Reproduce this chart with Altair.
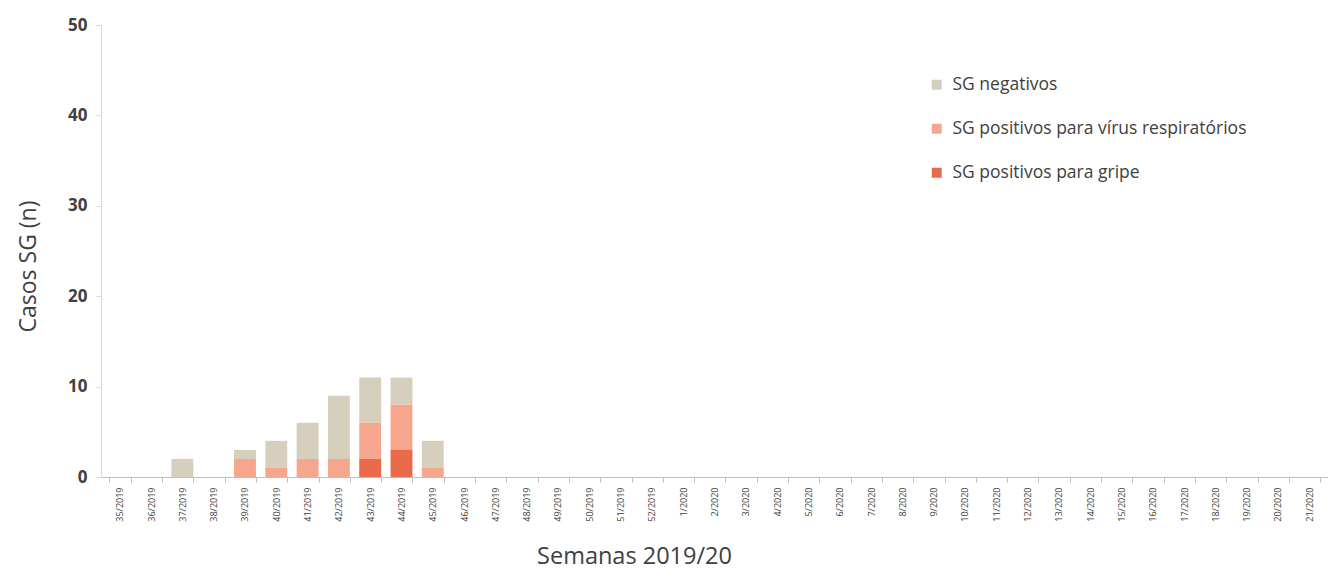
import altair as alt
import pandas as pd

weeks = [f"{w}/2019" for w in range(35, 53)] + [f"{w}/2020" for w in range(1, 22)]
gripe = [0, 0, 0, 0, 0, 0, 0, 0, 2, 3, 0] + [0] * 28
virus = [0, 0, 0, 0, 2, 1, 2, 2, 4, 5, 1] + [0] * 28
negativos = [0, 0, 2, 0, 1, 3, 4, 7, 5, 3, 3] + [0] * 28

series = ["SG negativos", "SG positivos para vírus respiratórios", "SG positivos para gripe"]
colors = ["#d6cfbd", "#f6a68c", "#ec6a4c"]
order_map = {"SG positivos para gripe": 0, "SG positivos para vírus respiratórios": 1, "SG negativos": 2}

rows = []
for i, w in enumerate(weeks):
    for s, vals in zip(series, [negativos, virus, gripe]):
        rows.append({"semana": w, "serie": s, "n": vals[i], "ord": order_map[s]})
df = pd.DataFrame(rows)

font = "Open Sans"
txt = "#404040"

bars = alt.Chart(df).mark_bar().encode(
    x=alt.X("semana:N", sort=weeks, scale=alt.Scale(paddingInner=0.3, paddingOuter=0.25),
            axis=alt.Axis(title="Semanas 2019/20", labelAngle=-90, labelFontSize=9,
                          labelColor=txt, labelFont=font, labelPadding=5,
                          titleFont=font, titleFontSize=23.5, titleFontWeight="normal",
                          titleColor=txt, titleX=533, titleY=86,
                          titleBaseline="alphabetic", titleAlign="center",
                          domainColor="#bfbfbf", tickColor="#bfbfbf", tickSize=5,
                          tickBand="extent", grid=False)),
    y=alt.Y("n:Q", stack="zero", scale=alt.Scale(domain=[0, 50]),
            axis=alt.Axis(title="Casos SG (n)", values=[0, 10, 20, 30, 40, 50],
                          labelFontSize=17, labelFontWeight="bold", labelColor=txt,
                          labelFont=font, labelPadding=9,
                          titleFont=font, titleFontSize=23, titleFontWeight="normal",
                          titleColor=txt, titleX=-73, titleY=241, titleAngle=-90,
                          titleBaseline="middle", titleAlign="center",
                          domainColor="#d9d9d9", tickColor="#d9d9d9", tickSize=5,
                          grid=False)),
    color=alt.Color("serie:N", scale=alt.Scale(domain=series, range=colors),
                    legend=alt.Legend(title=None, orient="none", legendX=827, legendY=51,
                                      symbolType="square", symbolSize=100, symbolStrokeWidth=0,
                                      labelFont=font, labelFontSize=17.5, labelColor=txt,
                                      labelOffset=7, rowPadding=25, labelLimit=500)),
    order=alt.Order("ord:Q", sort="ascending"),
)

chart = bars.properties(
    width=1227, height=452,
    background="white",
    autosize=alt.AutoSizeParams(type="none"),
    padding={"left": 93, "top": 17, "right": 0, "bottom": 91},
).configure_view(stroke=None)

chart.save("out.html", embed_options={"renderer": "svg", "actions": False})
